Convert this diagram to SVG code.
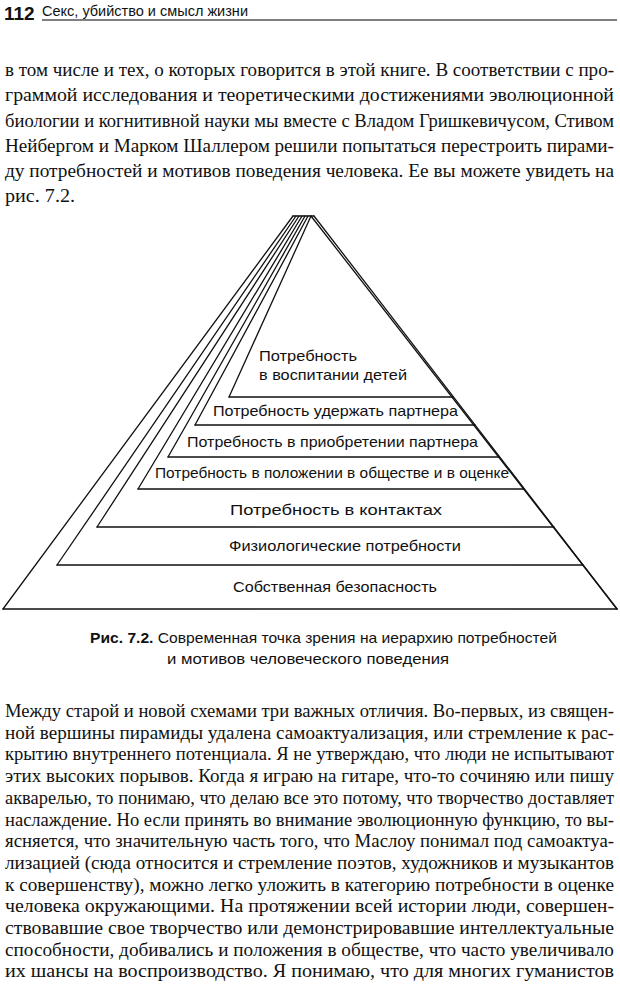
<svg xmlns="http://www.w3.org/2000/svg" width="620" height="984" viewBox="0 0 620 984">
<style>
.body{font-family:"Liberation Serif","DejaVu Serif",serif;font-size:18px;fill:#111}
.lab{font-family:"Liberation Sans",Arial,sans-serif;font-size:15px;fill:#111}
.cap{font-family:"Liberation Sans",Arial,sans-serif;font-size:14.5px;fill:#111}
.ln{stroke:#111;stroke-width:1.3;fill:none;stroke-linecap:round}
</style>
<rect width="620" height="984" fill="#fff"/>
<g id="header">
<text x="4" y="20" style="font-family:'Liberation Sans',Arial,sans-serif;font-size:19px;font-weight:bold;fill:#111">112</text>
<text x="42" y="16" style="font-family:'Liberation Sans',Arial,sans-serif;font-size:14px;fill:#111" textLength="206" lengthAdjust="spacingAndGlyphs">Секс, убийство и смысл жизни</text>
<line x1="42" y1="20" x2="617" y2="20" stroke="#555" stroke-width="1.5"/>
</g>
<g id="para1" class="body">
<text x="5" y="76" textLength="609" lengthAdjust="spacingAndGlyphs">в том числе и тех, о которых говорится в этой книге. В соответствии с про-</text>
<text x="5" y="101" textLength="609" lengthAdjust="spacingAndGlyphs">граммой исследования и теоретическими достижениями эволюционной</text>
<text x="5" y="127" textLength="609" lengthAdjust="spacingAndGlyphs">биологии и когнитивной науки мы вместе с Владом Гришкевичусом, Стивом</text>
<text x="5" y="152" textLength="609" lengthAdjust="spacingAndGlyphs">Нейбергом и Марком Шаллером решили попытаться перестроить пирами-</text>
<text x="5" y="177" textLength="609" lengthAdjust="spacingAndGlyphs">ду потребностей и мотивов поведения человека. Ее вы можете увидеть на</text>
<text x="5" y="202" textLength="70" lengthAdjust="spacingAndGlyphs">рис. 7.2.</text>
</g>
<g id="pyramid">
<g id="apex">
<line class="ln" x1="293" y1="216" x2="314" y2="216"/>
<line class="ln" x1="311" y1="216" x2="617" y2="609"/>
<line class="ln" x1="314" y1="216" x2="617" y2="609"/>
</g>
<g id="level1">
<line class="ln" x1="311" y1="216" x2="229" y2="397"/>
<line class="ln" x1="229" y1="397" x2="453" y2="397"/>
<text class="lab" x="259" y="361" textLength="98" lengthAdjust="spacingAndGlyphs">Потребность</text>
<text class="lab" x="259" y="380" textLength="148" lengthAdjust="spacingAndGlyphs">в воспитании детей</text>
</g>
<g id="level2">
<line class="ln" x1="308" y1="216" x2="195" y2="425"/>
<line class="ln" x1="195" y1="425" x2="475" y2="425"/>
<text class="lab" x="213" y="416" textLength="245" lengthAdjust="spacingAndGlyphs">Потребность удержать партнера</text>
</g>
<g id="level3">
<line class="ln" x1="305" y1="216" x2="168" y2="457"/>
<line class="ln" x1="168" y1="457" x2="499" y2="457"/>
<text class="lab" x="187" y="447" textLength="291" lengthAdjust="spacingAndGlyphs">Потребность в приобретении партнера</text>
</g>
<g id="level4">
<line class="ln" x1="302" y1="216" x2="138" y2="489"/>
<line class="ln" x1="138" y1="489" x2="524" y2="489"/>
<text class="lab" x="155" y="478" textLength="354" lengthAdjust="spacingAndGlyphs">Потребность в положении в обществе и в оценке</text>
</g>
<g id="level5">
<line class="ln" x1="299" y1="216" x2="97" y2="527"/>
<line class="ln" x1="97" y1="527" x2="554" y2="527"/>
<text class="lab" x="230" y="515" textLength="212" lengthAdjust="spacingAndGlyphs">Потребность в контактах</text>
</g>
<g id="level6">
<line class="ln" x1="296" y1="216" x2="57" y2="565"/>
<line class="ln" x1="57" y1="565" x2="583" y2="565"/>
<text class="lab" x="229" y="551" textLength="232" lengthAdjust="spacingAndGlyphs">Физиологические потребности</text>
</g>
<g id="level7">
<line class="ln" x1="293" y1="216" x2="3" y2="609"/>
<line class="ln" x1="3" y1="609" x2="617" y2="609"/>
<text class="lab" x="233" y="592" textLength="204" lengthAdjust="spacingAndGlyphs">Собственная безопасность</text>
</g>
</g>
<g id="connectors"/>
<g id="caption" class="cap">
<text x="90" y="643" textLength="467" lengthAdjust="spacingAndGlyphs"><tspan font-weight="bold">Рис. 7.2.</tspan> Современная точка зрения на иерархию потребностей</text>
<text x="167" y="664" textLength="282" lengthAdjust="spacingAndGlyphs">и мотивов человеческого поведения</text>
</g>
<g id="para2" class="body">
<text x="5" y="717" textLength="609" lengthAdjust="spacingAndGlyphs">Между старой и новой схемами три важных отличия. Во-первых, из священ-</text>
<text x="5" y="738.7" textLength="609" lengthAdjust="spacingAndGlyphs">ной вершины пирамиды удалена самоактуализация, или стремление к рас-</text>
<text x="5" y="760.4" textLength="609" lengthAdjust="spacingAndGlyphs">крытию внутреннего потенциала. Я не утверждаю, что люди не испытывают</text>
<text x="5" y="782.1" textLength="609" lengthAdjust="spacingAndGlyphs">этих высоких порывов. Когда я играю на гитаре, что-то сочиняю или пишу</text>
<text x="5" y="803.8" textLength="609" lengthAdjust="spacingAndGlyphs">акварелью, то понимаю, что делаю все это потому, что творчество доставляет</text>
<text x="5" y="825.5" textLength="609" lengthAdjust="spacingAndGlyphs">наслаждение. Но если принять во внимание эволюционную функцию, то вы-</text>
<text x="5" y="847.2" textLength="609" lengthAdjust="spacingAndGlyphs">ясняется, что значительную часть того, что Маслоу понимал под самоактуа-</text>
<text x="5" y="868.9" textLength="609" lengthAdjust="spacingAndGlyphs">лизацией (сюда относится и стремление поэтов, художников и музыкантов</text>
<text x="5" y="890.6" textLength="609" lengthAdjust="spacingAndGlyphs">к совершенству), можно легко уложить в категорию потребности в оценке</text>
<text x="5" y="912.3" textLength="609" lengthAdjust="spacingAndGlyphs">человека окружающими. На протяжении всей истории люди, совершен-</text>
<text x="5" y="934" textLength="609" lengthAdjust="spacingAndGlyphs">ствовавшие свое творчество или демонстрировавшие интеллектуальные</text>
<text x="5" y="955.7" textLength="609" lengthAdjust="spacingAndGlyphs">способности, добивались и положения в обществе, что часто увеличивало</text>
<text x="5" y="977.4" textLength="609" lengthAdjust="spacingAndGlyphs">их шансы на воспроизводство. Я понимаю, что для многих гуманистов</text>
</g>
</svg>
